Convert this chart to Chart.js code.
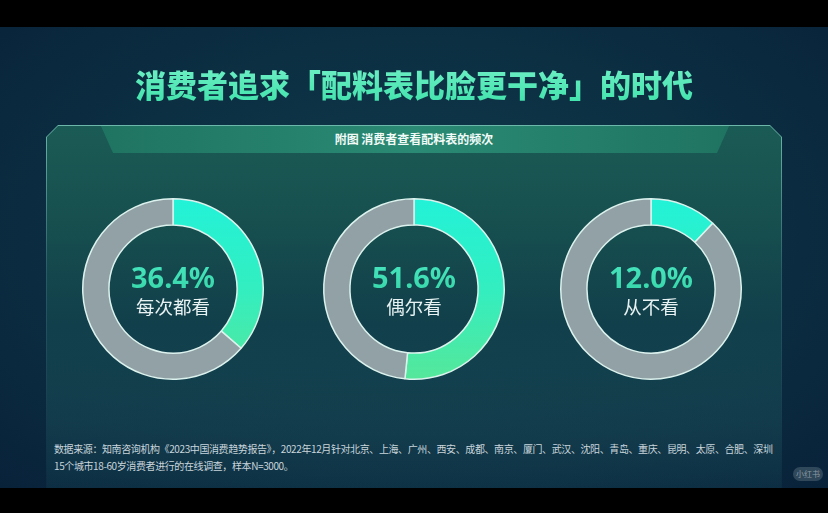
<!DOCTYPE html>
<html>
<head>
<meta charset="utf-8">
<script src="https://cdn.jsdelivr.net/npm/chart.js@4.4.1/dist/chart.umd.min.js"></script>
<style>
  html, body { margin: 0; padding: 0; }
  body {
    width: 828px; height: 513px; position: relative; overflow: hidden;
    background: #000;
    font-family: "Noto Sans CJK SC", "Noto Sans", sans-serif;
  }
  #stage {
    position: absolute; left: 0; top: 27px; width: 828px; height: 461px; overflow: hidden;
    background: radial-gradient(ellipse at 50% 45%, #0f3a4c 0%, #0c2f42 55%, #08223a 100%);
  }
  #title {
    position: absolute; left: 0; top: 34px; width: 828px; text-align: center;
    font-size: 31px; font-weight: 900;
    background: linear-gradient(180deg, #74f0c8 0%, #3ee2aa 100%);
    -webkit-background-clip: text; background-clip: text; color: transparent;
  }
  #panelBorder {
    position: absolute; left: 46px; top: 98px; width: 736px; height: 363px;
    clip-path: polygon(12px 0, 724px 0, 736px 12px, 736px 100%, 0 100%, 0 12px);
    background: linear-gradient(180deg, rgba(140,230,205,0.75) 0%, rgba(110,200,190,0.3) 40%, rgba(90,170,180,0.05) 100%);
  }
  #panel {
    position: absolute; left: 1px; top: 1px; right: 1px; bottom: 0;
    clip-path: polygon(11px 0, 723px 0, 734px 11px, 734px 100%, 0 100%, 0 11px);
    background: linear-gradient(180deg, #1b5b55 0%, #17504f 25%, #113f4b 55%, rgba(13,50,70,0.4) 100%);
  }
  #band {
    position: absolute; left: 54px; top: 0; width: 628px; height: 27px;
    clip-path: polygon(0 0, 100% 0, calc(100% - 12px) 100%, 12px 100%);
    background: linear-gradient(90deg, #1f7461 0%, #2a8a73 50%, #1f7461 100%);
  }
  #sub {
    position: absolute; left: 0; top: 4px; width: 734px; text-align: center;
    color: #f2fbf8; font-size: 12px; font-weight: 700;
  }
  .donut { position: absolute; top: 170px; width: 184px; height: 184px; }
  .center {
    position: absolute; top: 233px; width: 184px; text-align: center; pointer-events: none;
  }
  .pct {
    font-family: "Noto Sans", sans-serif; font-size: 29px; font-weight: 700; line-height: 34px;
    background: linear-gradient(180deg, #48e6c0 0%, #36d6a8 100%);
    -webkit-background-clip: text; background-clip: text; color: transparent;
  }
  .lab { color: #e8f2f2; font-size: 18.5px; line-height: 24px; }
  #note {
    position: absolute; left: 54px; top: 413px; color: #c9d5dc; font-size: 10px; line-height: 17px;
    white-space: nowrap; letter-spacing: -0.4px;
  }
  #mark {
    position: absolute; left: 793px; top: 440px; width: 30px; height: 14px; border-radius: 7px;
    background: rgba(120,140,150,0.35); color: rgba(200,210,215,0.6); font-size: 8px;
    text-align: center; line-height: 14px;
  }
</style>
</head>
<body>
<div id="stage">
  <div id="title">消费者追求「配料表比脸更干净」的时代</div>
  <div id="panelBorder"><div id="panel">
    <div id="band"></div>
    <div id="sub">附图 消费者查看配料表的频次</div>
  </div></div>
  <div id="charts"></div>
  <div id="note">数据来源：知南咨询机构《2023中国消费趋势报告》，2022年12月针对北京、上海、广州、西安、成都、南京、厦门、武汉、沈阳、青岛、重庆、昆明、太原、合肥、深圳<br>15个城市18-60岁消费者进行的在线调查，样本N=3000。</div>
  <div id="mark">小红书</div>
</div>
<script>
// 数据
const categories = ['每次都看', '偶尔看', '从不看'];
const shares = [36.4, 51.6, 12.0];
const shareLabels = ['36.4%', '51.6%', '12.0%'];
const centersX = [173, 414, 651];

const GREY = '#91a1a5';
const EDGE = '#dcf2ee';

// 绿色段用上下渐变，其余为灰色
function segColor(ctx) {
  if (ctx.dataIndex !== 0) return GREY;
  const area = ctx.chart.chartArea;
  if (!area) return '#3cf0c4';
  const g = ctx.chart.ctx.createLinearGradient(0, area.top, 0, area.bottom);
  g.addColorStop(0, '#22f2d8');
  g.addColorStop(0.5, '#33eec0');
  g.addColorStop(1, '#55e79a');
  return g;
}

const wrap = document.getElementById('charts');
categories.forEach((cat, i) => {
  const cv = document.createElement('canvas');
  cv.className = 'donut';
  cv.width = 184; cv.height = 184;
  cv.style.left = (centersX[i] - 92) + 'px';
  wrap.appendChild(cv);

  const c = document.createElement('div');
  c.className = 'center';
  c.style.left = (centersX[i] - 92) + 'px';
  c.innerHTML = `<div class="pct">${shareLabels[i]}</div><div class="lab">${cat}</div>`;
  wrap.appendChild(c);

  new Chart(cv, {
    type: 'doughnut',
    data: {
      labels: [cat, ''],
      datasets: [{
        data: [shares[i], +(100 - shares[i]).toFixed(1)],
        backgroundColor: segColor,
        borderColor: EDGE,
        borderWidth: 1.5
      }]
    },
    options: {
      responsive: false, animation: false,
      cutout: '71%',
      layout: { padding: 1 },
      plugins: { legend: { display: false }, tooltip: { enabled: false } }
    }
  });
});
</script>
</body>
</html>
